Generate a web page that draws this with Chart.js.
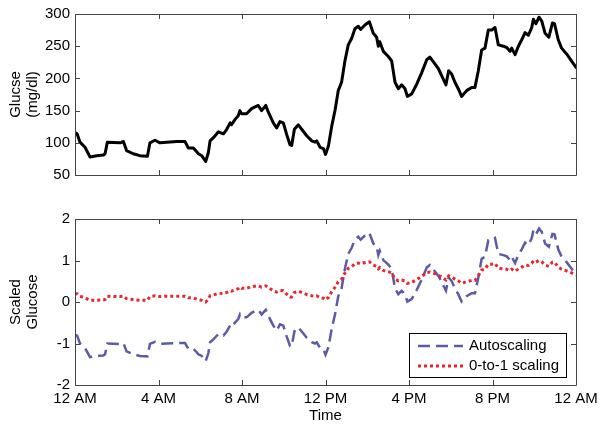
<!DOCTYPE html>
<html>
<head>
<meta charset="utf-8">
<title>Glucose scaling</title>
<script src="https://cdn.jsdelivr.net/npm/chart.js@4.4.1/dist/chart.umd.min.js"></script>
<style>
  html, body { margin: 0; padding: 0; background: #fff; }
  #wrap { position: relative; width: 603px; height: 426px; }
  .panel { position: absolute; left: 0; width: 603px; }
  #topPanel { top: 0; height: 190px; }
  #bottomPanel { top: 195px; height: 231px; }
</style>
</head>
<body>
<div id="wrap">
  <div class="panel" id="topPanel"><canvas id="glucoseChart"></canvas></div>
  <div class="panel" id="bottomPanel"><canvas id="scaledChart"></canvas></div>
</div>
<script>
// time of day in hours (0 = 12 AM, 24 = next 12 AM)
const hours = [
  0, 0.1, 0.24, 0.48, 0.72, 1.04, 1.36, 1.44, 1.55, 2.16,
  2.32, 2.47, 2.79, 3.11, 3.47, 3.59, 3.83, 4.07, 4.39, 4.87,
  5.27, 5.43, 5.67, 5.83, 5.91, 6.07, 6.26, 6.39, 6.47, 6.63,
  6.87, 7.11, 7.27, 7.43, 7.5, 7.66, 7.82, 7.9, 7.98, 8.22,
  8.46, 8.7, 8.78, 8.94, 9.14, 9.23, 9.5, 9.66, 9.82, 9.98,
  10.14, 10.3, 10.38, 10.51, 10.7, 10.86, 11.1, 11.34, 11.5, 11.58,
  11.74, 11.9, 12.0, 12.14, 12.3, 12.46, 12.61, 12.77, 12.93, 13.09,
  13.25, 13.41, 13.57, 13.68, 13.89, 14.1, 14.29, 14.45, 14.53, 14.6,
  14.77, 15.01, 15.17, 15.33, 15.49, 15.65, 15.81, 15.92, 16.13, 16.37,
  16.61, 16.85, 17.0, 17.25, 17.41, 17.57, 17.77, 17.9, 18.04, 18.2,
  18.36, 18.52, 18.76, 19.0, 19.16, 19.32, 19.48, 19.64, 19.8, 19.96,
  20.12, 20.28, 20.52, 20.68, 20.84, 20.92, 21.08, 21.24, 21.4, 21.56,
  21.72, 21.88, 21.96, 22.08, 22.23, 22.36, 22.52, 22.7, 22.87, 22.97,
  23.15, 23.31, 23.55, 23.79, 24.0
];

// glucose in mg/dl
const glucose = [
  116, 114, 101, 93, 78, 80, 81, 83, 101, 100,
  102, 88, 83, 80, 79, 100, 104, 100, 101, 102,
  102, 92, 92, 86, 83, 80, 71, 85, 103, 108,
  117, 114, 121, 131, 128, 136, 142, 150, 145, 145,
  153, 157, 158, 150, 158, 150, 131, 123, 133, 131,
  113, 97, 96, 121, 128, 121, 111, 103, 101, 103,
  93, 91, 82, 95, 126, 151, 181, 194, 227, 252,
  262, 277, 281, 276, 283, 288, 270, 264, 250, 257,
  242, 234, 227, 194, 184, 190, 184, 172, 176, 191,
  209, 229, 233, 222, 215, 204, 190, 212, 207, 194,
  184, 172, 181, 186, 186, 212, 244, 247, 275, 275,
  279, 252, 250, 248, 242, 247, 237, 250, 260, 271,
  267, 279, 292, 285, 295, 289, 270, 264, 286, 285,
  260, 247, 238, 227, 217
];

// autoscaled glucose (dashed line)
const autoScaled = [
  -0.79, -0.81, -1.00, -1.11, -1.33, -1.30, -1.29, -1.26, -1.00, -1.01,
  -0.99, -1.19, -1.26, -1.30, -1.31, -1.01, -0.96, -1.01, -1.00, -0.99,
  -0.99, -1.13, -1.13, -1.21, -1.26, -1.30, -1.43, -1.23, -0.97, -0.90,
  -0.77, -0.81, -0.71, -0.57, -0.61, -0.50, -0.41, -0.30, -0.37, -0.37,
  -0.26, -0.20, -0.19, -0.30, -0.19, -0.30, -0.57, -0.69, -0.54, -0.57,
  -0.83, -1.06, -1.07, -0.71, -0.61, -0.71, -0.86, -0.97, -1.00, -0.97,
  -1.11, -1.14, -1.27, -1.09, -0.64, -0.29, 0.14, 0.33, 0.80, 1.16,
  1.30, 1.51, 1.57, 1.50, 1.60, 1.67, 1.41, 1.33, 1.13, 1.23,
  1.01, 0.90, 0.80, 0.33, 0.19, 0.27, 0.19, 0.01, 0.07, 0.29,
  0.54, 0.83, 0.89, 0.73, 0.63, 0.47, 0.27, 0.59, 0.51, 0.33,
  0.19, 0.01, 0.14, 0.21, 0.21, 0.59, 1.04, 1.09, 1.49, 1.49,
  1.54, 1.16, 1.13, 1.10, 1.01, 1.09, 0.94, 1.13, 1.27, 1.43,
  1.37, 1.54, 1.73, 1.63, 1.77, 1.69, 1.41, 1.33, 1.64, 1.63,
  1.27, 1.09, 0.96, 0.80, 0.66
];

// 0-to-1 scaled glucose (dotted line)
const unitScaled = [
  0.20, 0.20, 0.14, 0.10, 0.04, 0.04, 0.05, 0.06, 0.14, 0.13,
  0.14, 0.08, 0.06, 0.04, 0.04, 0.13, 0.15, 0.13, 0.14, 0.14,
  0.14, 0.10, 0.10, 0.07, 0.06, 0.04, 0.00, 0.07, 0.15, 0.17,
  0.21, 0.20, 0.23, 0.27, 0.26, 0.29, 0.32, 0.36, 0.33, 0.33,
  0.37, 0.39, 0.39, 0.36, 0.39, 0.36, 0.27, 0.24, 0.28, 0.27,
  0.19, 0.12, 0.12, 0.23, 0.26, 0.23, 0.18, 0.15, 0.14, 0.15,
  0.10, 0.09, 0.05, 0.11, 0.25, 0.36, 0.49, 0.55, 0.70, 0.81,
  0.85, 0.92, 0.94, 0.92, 0.95, 0.97, 0.89, 0.86, 0.80, 0.83,
  0.76, 0.73, 0.70, 0.55, 0.51, 0.53, 0.51, 0.45, 0.47, 0.54,
  0.62, 0.71, 0.72, 0.68, 0.64, 0.60, 0.53, 0.63, 0.61, 0.55,
  0.51, 0.45, 0.49, 0.52, 0.52, 0.63, 0.77, 0.79, 0.91, 0.91,
  0.93, 0.81, 0.80, 0.79, 0.76, 0.79, 0.74, 0.80, 0.84, 0.89,
  0.88, 0.93, 0.99, 0.96, 1.00, 0.97, 0.89, 0.86, 0.96, 0.96,
  0.84, 0.79, 0.75, 0.70, 0.65
];

const timeTickLabels = ['12 AM', '4 AM', '8 AM', '12 PM', '4 PM', '8 PM', '12 AM'];

const toPoints = (vals) => vals.map((v, i) => ({ x: hours[i], y: v }));

Chart.defaults.font.family = '"Liberation Sans", Arial, Helvetica, sans-serif';
Chart.defaults.font.size = 15;
Chart.defaults.color = '#000';

// MATLAB-like box with inward ticks on all four sides
const boxPlugin = {
  id: 'boxTicks',
  afterDatasetsDraw(chart) {
    const { ctx, chartArea: a, scales: { x, y } } = chart;
    const len = 5;
    ctx.save();
    ctx.strokeStyle = '#444';
    ctx.lineWidth = 1;
    ctx.beginPath();
    ctx.rect(a.left + 0.5, a.top + 0.5, a.right - a.left, a.bottom - a.top);
    x.ticks.forEach(t => {
      const px = Math.round(x.getPixelForValue(t.value)) + 0.5;
      ctx.moveTo(px, a.bottom); ctx.lineTo(px, a.bottom - len);
      ctx.moveTo(px, a.top); ctx.lineTo(px, a.top + len);
    });
    y.ticks.forEach(t => {
      const py = Math.round(y.getPixelForValue(t.value)) + 0.5;
      ctx.moveTo(a.left, py); ctx.lineTo(a.left + len, py);
      ctx.moveTo(a.right, py); ctx.lineTo(a.right - len, py);
    });
    ctx.stroke();
    ctx.restore();
  }
};

// legend box inside the lower right of the plot
const insideLegend = {
  id: 'insideLegend',
  afterDraw(chart) {
    const { ctx, chartArea: a } = chart;
    const w = 157, h = 44;
    const left = a.right - 10 - w, top = a.bottom - 8 - h;
    ctx.save();
    ctx.fillStyle = '#fff';
    ctx.fillRect(left, top, w, h);
    ctx.strokeStyle = '#000';
    ctx.lineWidth = 1;
    ctx.strokeRect(left + 0.5, top + 0.5, w, h);
    chart.data.datasets.forEach((ds, i) => {
      const yy = top + 13 + i * 20;
      ctx.strokeStyle = ds.borderColor;
      ctx.lineWidth = ds.borderWidth;
      ctx.setLineDash(ds.borderDash);
      ctx.beginPath();
      ctx.moveTo(left + 9, yy);
      ctx.lineTo(left + 54, yy);
      ctx.stroke();
      ctx.setLineDash([]);
      ctx.fillStyle = '#000';
      ctx.font = '15px "Liberation Sans", Arial, sans-serif';
      ctx.textBaseline = 'middle';
      ctx.fillText(ds.label, left + 60, yy);
    });
    ctx.restore();
  }
};

const timeAxis = (showLabels, height) => ({
  type: 'linear',
  min: 0,
  max: 24,
  grid: { display: false, drawTicks: false },
  border: { display: false },
  ticks: {
    display: showLabels,
    stepSize: 4,
    autoSkip: false,
    maxRotation: 0,
    padding: 5,
    callback: (v) => timeTickLabels[v / 4]
  },
  title: {
    display: showLabels,
    text: 'Time',
    padding: { top: 0, bottom: 1 }
  },
  afterFit: (s) => { s.height = height; }
});

const valueAxis = (min, max, step, title) => ({
  min: min,
  max: max,
  grid: { display: false, drawTicks: false },
  border: { display: false },
  ticks: { stepSize: step, padding: 5 },
  title: {
    display: true,
    text: title,
    font: { size: 15, lineHeight: 1.1 },
    padding: { top: 8, bottom: 0 }
  },
  afterFit: (s) => { s.width = 75; }
});

// Top panel: raw glucose
const glucoseCtx = document.getElementById('glucoseChart').getContext('2d');
const glucoseChart = new Chart(glucoseCtx, {
  type: 'line',
  data: {
    datasets: [{
      label: 'Glucose',
      data: toPoints(glucose),
      borderColor: '#000',
      borderWidth: 3,
      borderJoinStyle: 'round',
      borderCapStyle: 'round',
      pointRadius: 0,
      tension: 0,
      fill: false
    }]
  },
  options: {
    responsive: true,
    maintainAspectRatio: false,
    animation: false,
    layout: { padding: { top: 10, right: 27, left: 0, bottom: 0 } },
    plugins: { legend: { display: false }, tooltip: { enabled: false } },
    scales: {
      x: timeAxis(false, 15),
      y: valueAxis(50, 300, 50, ['Glucse', '(mg/dl)'])
    }
  },
  plugins: [boxPlugin]
});

// Bottom panel: scaled glucose
const scaledCtx = document.getElementById('scaledChart').getContext('2d');
const scaledChart = new Chart(scaledCtx, {
  type: 'line',
  data: {
    datasets: [{
      label: 'Autoscaling',
      data: toPoints(autoScaled),
      borderColor: '#5b5ba7',
      borderWidth: 2.5,
      borderDash: [12, 6],
      pointRadius: 0,
      tension: 0,
      fill: false,
      order: 1
    }, {
      label: '0-to-1 scaling',
      data: toPoints(unitScaled),
      borderColor: '#e8262b',
      borderWidth: 3,
      borderDash: [3, 3],
      pointRadius: 0,
      tension: 0,
      fill: false,
      order: 0
    }]
  },
  options: {
    responsive: true,
    maintainAspectRatio: false,
    animation: false,
    layout: { padding: { top: 24, right: 27, left: 0, bottom: 0 } },
    plugins: { legend: { display: false }, tooltip: { enabled: false } },
    scales: {
      x: timeAxis(true, 41),
      y: valueAxis(-2, 2, 1, ['Scaled', 'Glucose'])
    }
  },
  plugins: [boxPlugin, insideLegend]
});
</script>
</body>
</html>
